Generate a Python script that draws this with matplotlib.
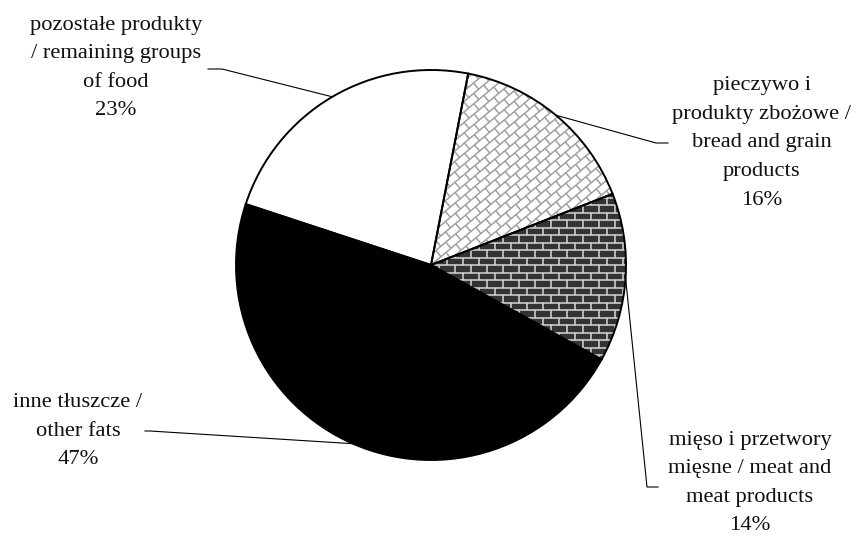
import numpy as np
import matplotlib.pyplot as plt
import matplotlib.patches as mpatches
from matplotlib.collections import LineCollection

# dane / data
labels = ['pieczywo i\nprodukty zbożowe /\nbread and grain\nproducts',
          'mięso i przetwory\nmięsne / meat and\nmeat products',
          'inne tłuszcze /\nother fats',
          'pozostałe produkty\n/ remaining groups\nof food']
shares = [16, 14, 47, 23]
colors = ['white', '#333333', 'black', 'white']

# label layout in pixels (text centre, elbow of leader, end near text)
text_pos = [(762, 143), (750, 483), (78, 431), (116, 68)]
elbow = [(656, 143), (647, 487), (150, 431), (222, 69)]
text_end = [(668, 143), (658, 487), (145, 431), (208, 69)]

W, H = 856, 538
CX, CY, R = 431, 265, 195


def px(x, y):
    return ((x - CX) / R, (CY - y) / R)


def bricks(angle, h, w, size=320):
    # brick wall lines around the pie centre, rotated by angle (deg)
    a = np.radians(angle)
    segs = []
    n = int(size / h) + 1
    for k in range(-n, n + 1):
        v = k * h
        segs.append([(-size, v), (size, v)])
        off = (k % 2) * w / 2
        for j in range(-int(size / w) - 1, int(size / w) + 2):
            u = j * w + off
            segs.append([(u, v), (u, v + h)])
    out = []
    for s in segs:
        line = []
        for u, v in s:
            x = CX + u * np.cos(a) - v * np.sin(a)
            y = CY - (u * np.sin(a) + v * np.cos(a))
            line.append(px(x, y))
        out.append(line)
    return out


fig = plt.figure(figsize=(W / 100, H / 100), dpi=100)
ax = fig.add_axes([0, 0, 1, 1])
wedges, _ = ax.pie(shares, startangle=79, counterclock=False, colors=colors,
                   wedgeprops=dict(edgecolor='none', linewidth=0))
ax.set_xlim(-CX / R, (W - CX) / R)
ax.set_ylim((CY - H) / R, CY / R)
ax.axis('off')

# pieczywo - diagonal light bricks
lc = LineCollection(bricks(40, 8, 13), colors='#a0a0a0', linewidths=1.1, zorder=2)
ax.add_collection(lc)
lc.set_clip_path(wedges[0])

# mieso - dark bricks
lc2 = LineCollection(bricks(0, 7.5, 16), colors='#d8d8d8', linewidths=1.1, zorder=2)
ax.add_collection(lc2)
lc2.set_clip_path(wedges[1])

for w in wedges:
    ax.add_patch(mpatches.Wedge(w.center, w.r, w.theta1, w.theta2, fill=False,
                                ec='black', lw=1.4, zorder=3))

for i, w in enumerate(wedges):
    t = np.radians((w.theta1 + w.theta2) / 2)
    ex, ey = np.cos(t), np.sin(t)
    bx, by = px(*elbow[i])
    tx, ty = px(*text_end[i])
    ax.plot([ex, bx, tx], [ey, by, ty], color='black', lw=0.8, zorder=4)
    ax.text(*px(*text_pos[i]), labels[i] + '\n' + str(shares[i]) + '%',
            ha='center', va='center', fontsize=16.2, family='Liberation Serif',
            linespacing=1.68, color='#111111')

plt.savefig('out.png', dpi=100)
